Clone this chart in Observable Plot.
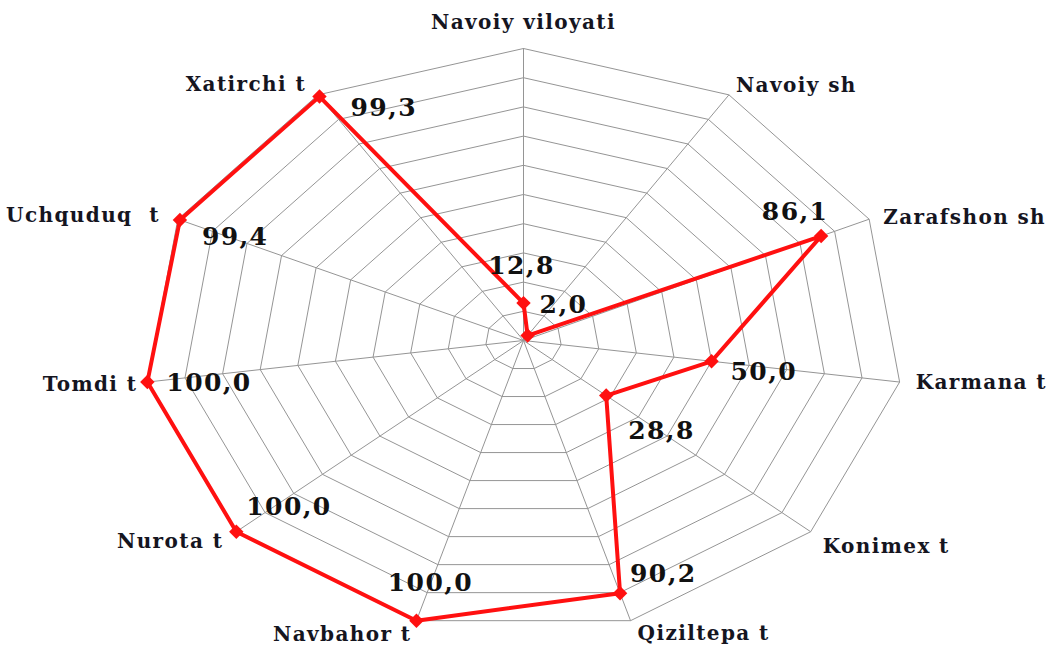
<!DOCTYPE html>
<html><head><meta charset="utf-8">
<script src="https://cdn.jsdelivr.net/npm/d3@7"></script>
<script src="https://cdn.jsdelivr.net/npm/@observablehq/plot@0.6"></script>
<style>
html,body{margin:0;padding:0;background:#fff;}
#chart svg{display:block;}
#chart svg text{letter-spacing:1.4px;}
</style>
</head><body><div id="chart"></div>
<script>
// ---- data ----
const categories = ["Navoiy viloyati","Navoiy sh","Zarafshon sh","Karmana t","Konimex t","Qiziltepa t","Navbahor t","Nurota t","Tomdi t","Uchquduq  t","Xatirchi t"];
const values = [12.8, 2.0, 86.1, 50.0, 28.8, 90.2, 100.0, 100.0, 100.0, 99.4, 99.3];
const valueLabels = ["12,8","2,0","86,1","50,0","28,8","90,2","100,0","100,0","100,0","99,4","99,3"];
const ringLevels = [10, 20, 30, 40, 50, 60, 70, 80, 90, 100];
const maxValue = 100;

// ---- geometry helpers (unit polar -> cartesian, scales do the rest) ----
const n = categories.length;
const ang = i => i * 2 * Math.PI / n;
const px = (i, v) => Math.sin(ang(i)) * v / maxValue;
const py = (i, v) => Math.cos(ang(i)) * v / maxValue;

const ringPts = ringLevels.flatMap(lv => d3.range(n + 1).map(i => ({lv, x: px(i % n, lv), y: py(i % n, lv)})));
const spokes = categories.map((c, i) => ({x: px(i, maxValue), y: py(i, maxValue)}));
const series = values.map((v, i) => ({i, v, label: valueLabels[i], x: px(i, v), y: py(i, v)}));
const seriesClosed = [...series, series[0]];
const cats = categories.map((c, i) => ({c, i, x: px(i, maxValue), y: py(i, maxValue), s: Math.sin(ang(i)), k: Math.cos(ang(i))}));

// label offsets (style only)
const catOffsets = [
  {dx: 0, dy: -26}, {dx: 7, dy: -9}, {dx: 14, dy: -2}, {dx: 16, dy: 1},
  {dx: 12, dy: 15}, {dx: 7, dy: 13}, {dx: -5, dy: 14}, {dx: -13, dy: 10},
  {dx: -10, dy: 3}, {dx: -18, dy: -4}, {dx: -12, dy: -10}
];
const valueOffsets = [
  {dx: -2, dy: -37, a: "middle"},
  {dx: 12, dy: -31, a: "start"},
  {dx: -26, dy: -24, a: "middle"},
  {dx: 19, dy: 11, a: "start"},
  {dx: 22, dy: 35, a: "start"},
  {dx: 10, dy: -19, a: "start"},
  {dx: 14, dy: -38, a: "middle"},
  {dx: 10, dy: -25, a: "start"},
  {dx: 19, dy: 1, a: "start"},
  {dx: 22, dy: 17, a: "start"},
  {dx: 31, dy: 11, a: "start"}
];

const labelFont = {fontFamily: "DejaVu Serif", fontWeight: "bold"};

const plot = Plot.plot({
  width: 1052,
  height: 646,
  margin: 0,
  x: {domain: [-1, 1], range: [143, 903], axis: null},
  y: {domain: [-1, 1], range: [632, 48], axis: null},
  marks: [
    Plot.line(ringPts, {x: "x", y: "y", z: "lv", stroke: "#959595", strokeWidth: 1}),
    Plot.link(spokes, {x1: () => 0, y1: () => 0, x2: "x", y2: "y", stroke: "#959595", strokeWidth: 1}),
    Plot.line(seriesClosed, {x: "x", y: "y", stroke: "#ff1010", strokeWidth: 4, strokeLinejoin: "round"}),
    Plot.dot(series, {x: "x", y: "y", symbol: "diamond2", r: 6.5, fill: "#ff1010", stroke: "none"}),
    ...cats.map((d, i) => Plot.text([d], {
      x: "x", y: "y", text: "c", ...labelFont, fontSize: 20, fill: "#15151f",
      textAnchor: Math.abs(d.s) < 0.1 ? "middle" : (d.s > 0 ? "start" : "end"),
      dx: catOffsets[i].dx, dy: catOffsets[i].dy
    })),
    ...series.map((d, i) => Plot.text([d], {
      x: "x", y: "y", text: "label", ...labelFont, fontSize: 25, fill: "#111",
      textAnchor: valueOffsets[i].a, dx: valueOffsets[i].dx, dy: valueOffsets[i].dy
    }))
  ]
});
document.getElementById("chart").appendChild(plot);
</script>
</body></html>
